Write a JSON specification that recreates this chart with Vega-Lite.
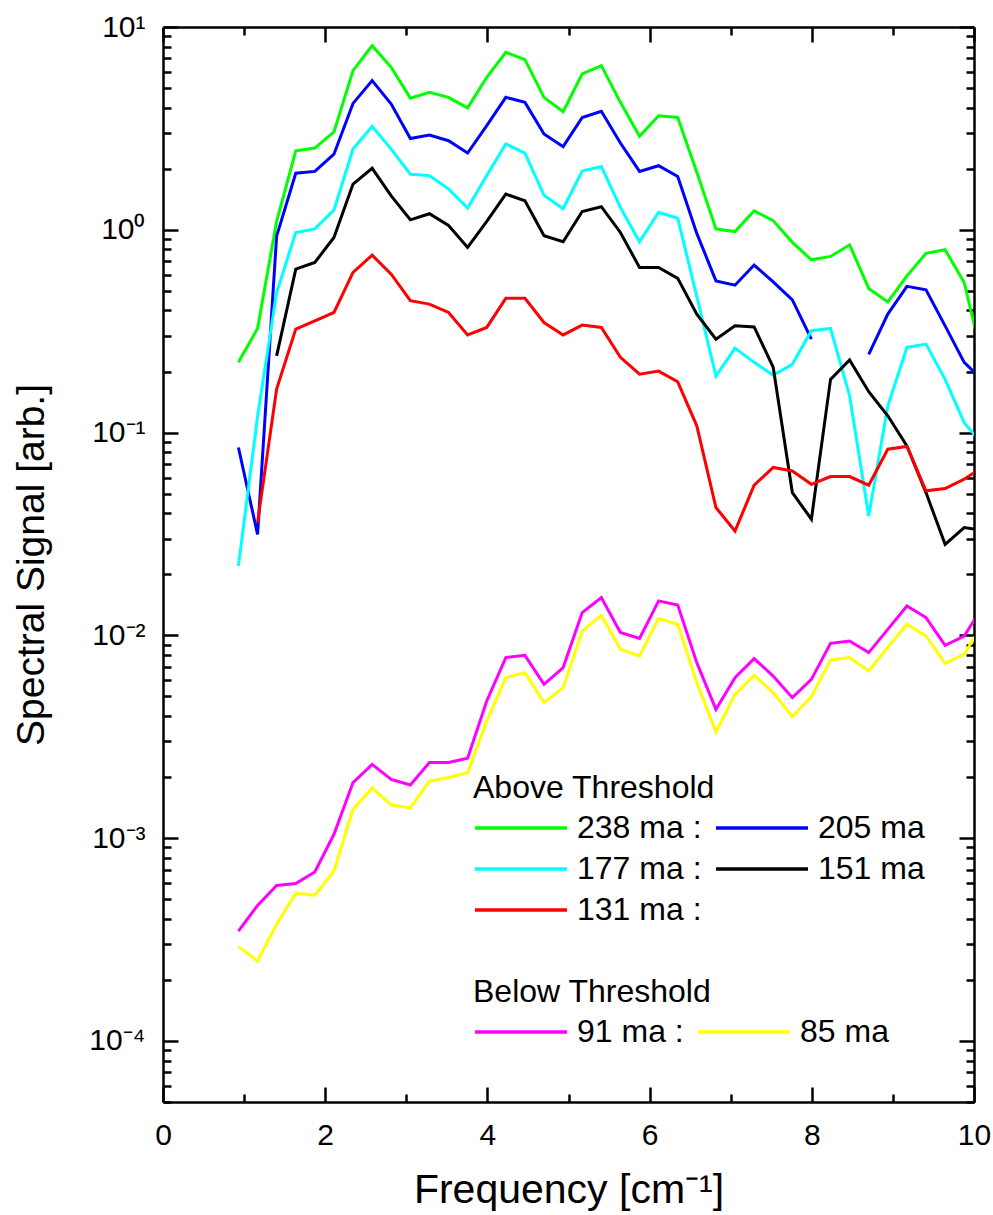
{
  "$schema": "https://vega.github.io/schema/vega-lite/v6.json",
  "width": 811,
  "height": 1075,
  "autosize": {"type": "none"},
  "padding": {"left": 163, "top": 27, "right": 19, "bottom": 113},
  "background": "white",
  "config": {
    "view": {"stroke": null},
    "font": "Liberation Sans",
    "axis": {
      "grid": false,
      "tickColor": "black",
      "tickWidth": 2.5,
      "domainColor": "black",
      "domainWidth": 2.5,
      "labelColor": "black",
      "titleColor": "black",
      "labelFont": "Liberation Sans",
      "titleFont": "Liberation Sans"
    },
    "legend": {"labelFont": "Liberation Sans", "titleFont": "Liberation Sans"}
  },
  "data": {
    "values": [
      {"c":"238 ma","x":0.93,"y":0.222},{"c":"238 ma","x":1.166,"y":0.326},{"c":"238 ma","x":1.401,"y":1.1},{"c":"238 ma","x":1.637,"y":2.45},{"c":"238 ma","x":1.872,"y":2.53},{"c":"238 ma","x":2.108,"y":3.04},{"c":"238 ma","x":2.343,"y":6.09},{"c":"238 ma","x":2.579,"y":8.09},{"c":"238 ma","x":2.814,"y":6.33},{"c":"238 ma","x":3.05,"y":4.46},{"c":"238 ma","x":3.285,"y":4.76},{"c":"238 ma","x":3.521,"y":4.5},{"c":"238 ma","x":3.756,"y":3.99},{"c":"238 ma","x":3.992,"y":5.65},{"c":"238 ma","x":4.227,"y":7.5},{"c":"238 ma","x":4.463,"y":6.9},{"c":"238 ma","x":4.698,"y":4.5},{"c":"238 ma","x":4.934,"y":3.82},{"c":"238 ma","x":5.169,"y":5.87},{"c":"238 ma","x":5.405,"y":6.45},{"c":"238 ma","x":5.64,"y":4.25},{"c":"238 ma","x":5.876,"y":2.89},{"c":"238 ma","x":6.111,"y":3.65},{"c":"238 ma","x":6.347,"y":3.58},{"c":"238 ma","x":6.582,"y":1.92},{"c":"238 ma","x":6.818,"y":1.01},{"c":"238 ma","x":7.053,"y":0.98},{"c":"238 ma","x":7.289,"y":1.24},{"c":"238 ma","x":7.524,"y":1.11},{"c":"238 ma","x":7.76,"y":0.867},{"c":"238 ma","x":7.995,"y":0.711},{"c":"238 ma","x":8.231,"y":0.739},{"c":"238 ma","x":8.466,"y":0.843},{"c":"238 ma","x":8.702,"y":0.514},{"c":"238 ma","x":8.937,"y":0.441},{"c":"238 ma","x":9.173,"y":0.593},{"c":"238 ma","x":9.408,"y":0.765},{"c":"238 ma","x":9.644,"y":0.797},{"c":"238 ma","x":9.879,"y":0.55},{"c":"238 ma","x":10.115,"y":0.22},

      {"c":"205 ma","s":1,"x":0.93,"y":0.0844},{"c":"205 ma","s":1,"x":1.166,"y":0.0315},{"c":"205 ma","s":1,"x":1.401,"y":0.93},{"c":"205 ma","s":1,"x":1.637,"y":1.9},{"c":"205 ma","s":1,"x":1.872,"y":1.94},{"c":"205 ma","s":1,"x":2.108,"y":2.36},{"c":"205 ma","s":1,"x":2.343,"y":4.2},{"c":"205 ma","s":1,"x":2.579,"y":5.44},{"c":"205 ma","s":1,"x":2.814,"y":4.17},{"c":"205 ma","s":1,"x":3.05,"y":2.82},{"c":"205 ma","s":1,"x":3.285,"y":2.93},{"c":"205 ma","s":1,"x":3.521,"y":2.75},{"c":"205 ma","s":1,"x":3.756,"y":2.39},{"c":"205 ma","s":1,"x":3.992,"y":3.26},{"c":"205 ma","s":1,"x":4.227,"y":4.5},{"c":"205 ma","s":1,"x":4.463,"y":4.25},{"c":"205 ma","s":1,"x":4.698,"y":2.97},{"c":"205 ma","s":1,"x":4.934,"y":2.57},{"c":"205 ma","s":1,"x":5.169,"y":3.58},{"c":"205 ma","s":1,"x":5.405,"y":3.84},{"c":"205 ma","s":1,"x":5.64,"y":2.68},{"c":"205 ma","s":1,"x":5.876,"y":1.94},{"c":"205 ma","s":1,"x":6.111,"y":2.07},{"c":"205 ma","s":1,"x":6.347,"y":1.83},{"c":"205 ma","s":1,"x":6.582,"y":0.96},{"c":"205 ma","s":1,"x":6.818,"y":0.56},{"c":"205 ma","s":1,"x":7.053,"y":0.533},{"c":"205 ma","s":1,"x":7.289,"y":0.67},{"c":"205 ma","s":1,"x":7.524,"y":0.554},{"c":"205 ma","s":1,"x":7.76,"y":0.451},{"c":"205 ma","s":1,"x":7.995,"y":0.289},
      {"c":"205 ma","s":2,"x":8.702,"y":0.243},{"c":"205 ma","s":2,"x":8.937,"y":0.384},{"c":"205 ma","s":2,"x":9.173,"y":0.526},{"c":"205 ma","s":2,"x":9.408,"y":0.506},{"c":"205 ma","s":2,"x":9.644,"y":0.336},{"c":"205 ma","s":2,"x":9.879,"y":0.222},{"c":"205 ma","s":2,"x":10.115,"y":0.18},

      {"c":"177 ma","x":0.93,"y":0.022},{"c":"177 ma","x":1.166,"y":0.12},{"c":"177 ma","x":1.401,"y":0.49},{"c":"177 ma","x":1.637,"y":0.97},{"c":"177 ma","x":1.872,"y":1.01},{"c":"177 ma","x":2.108,"y":1.25},{"c":"177 ma","x":2.343,"y":2.5},{"c":"177 ma","x":2.579,"y":3.24},{"c":"177 ma","x":2.814,"y":2.5},{"c":"177 ma","x":3.05,"y":1.88},{"c":"177 ma","x":3.285,"y":1.85},{"c":"177 ma","x":3.521,"y":1.59},{"c":"177 ma","x":3.756,"y":1.28},{"c":"177 ma","x":3.992,"y":1.85},{"c":"177 ma","x":4.227,"y":2.65},{"c":"177 ma","x":4.463,"y":2.39},{"c":"177 ma","x":4.698,"y":1.48},{"c":"177 ma","x":4.934,"y":1.27},{"c":"177 ma","x":5.169,"y":1.95},{"c":"177 ma","x":5.405,"y":2.05},{"c":"177 ma","x":5.64,"y":1.29},{"c":"177 ma","x":5.876,"y":0.873},{"c":"177 ma","x":6.111,"y":1.22},{"c":"177 ma","x":6.347,"y":1.14},{"c":"177 ma","x":6.582,"y":0.47},{"c":"177 ma","x":6.818,"y":0.19},{"c":"177 ma","x":7.053,"y":0.261},{"c":"177 ma","x":7.289,"y":0.222},{"c":"177 ma","x":7.524,"y":0.192},{"c":"177 ma","x":7.76,"y":0.217},{"c":"177 ma","x":7.995,"y":0.318},{"c":"177 ma","x":8.231,"y":0.326},{"c":"177 ma","x":8.466,"y":0.152},{"c":"177 ma","x":8.702,"y":0.0388},{"c":"177 ma","x":8.937,"y":0.135},{"c":"177 ma","x":9.173,"y":0.263},{"c":"177 ma","x":9.408,"y":0.273},{"c":"177 ma","x":9.644,"y":0.183},{"c":"177 ma","x":9.879,"y":0.112},{"c":"177 ma","x":10.115,"y":0.0865},

      {"c":"151 ma","x":1.401,"y":0.239},{"c":"151 ma","x":1.637,"y":0.64},{"c":"151 ma","x":1.872,"y":0.69},{"c":"151 ma","x":2.108,"y":0.917},{"c":"151 ma","x":2.343,"y":1.68},{"c":"151 ma","x":2.579,"y":2.01},{"c":"151 ma","x":2.814,"y":1.47},{"c":"151 ma","x":3.05,"y":1.12},{"c":"151 ma","x":3.285,"y":1.2},{"c":"151 ma","x":3.521,"y":1.05},{"c":"151 ma","x":3.756,"y":0.819},{"c":"151 ma","x":3.992,"y":1.1},{"c":"151 ma","x":4.227,"y":1.5},{"c":"151 ma","x":4.463,"y":1.39},{"c":"151 ma","x":4.698,"y":0.934},{"c":"151 ma","x":4.934,"y":0.873},{"c":"151 ma","x":5.169,"y":1.23},{"c":"151 ma","x":5.405,"y":1.3},{"c":"151 ma","x":5.64,"y":0.97},{"c":"151 ma","x":5.876,"y":0.652},{"c":"151 ma","x":6.111,"y":0.652},{"c":"151 ma","x":6.347,"y":0.576},{"c":"151 ma","x":6.582,"y":0.384},{"c":"151 ma","x":6.818,"y":0.289},{"c":"151 ma","x":7.053,"y":0.336},{"c":"151 ma","x":7.289,"y":0.332},{"c":"151 ma","x":7.524,"y":0.21},{"c":"151 ma","x":7.76,"y":0.0506},{"c":"151 ma","x":7.995,"y":0.0374},{"c":"151 ma","x":8.231,"y":0.183},{"c":"151 ma","x":8.466,"y":0.228},{"c":"151 ma","x":8.702,"y":0.159},{"c":"151 ma","x":8.937,"y":0.121},{"c":"151 ma","x":9.173,"y":0.0859},{"c":"151 ma","x":9.408,"y":0.0506},{"c":"151 ma","x":9.644,"y":0.0281},{"c":"151 ma","x":9.879,"y":0.034},{"c":"151 ma","x":10.115,"y":0.033},

      {"c":"131 ma","x":1.166,"y":0.036},{"c":"131 ma","x":1.401,"y":0.164},{"c":"131 ma","x":1.637,"y":0.324},{"c":"131 ma","x":1.872,"y":0.356},{"c":"131 ma","x":2.108,"y":0.391},{"c":"131 ma","x":2.343,"y":0.616},{"c":"131 ma","x":2.579,"y":0.75},{"c":"131 ma","x":2.814,"y":0.604},{"c":"131 ma","x":3.05,"y":0.447},{"c":"131 ma","x":3.285,"y":0.43},{"c":"131 ma","x":3.521,"y":0.391},{"c":"131 ma","x":3.756,"y":0.303},{"c":"131 ma","x":3.992,"y":0.33},{"c":"131 ma","x":4.227,"y":0.459},{"c":"131 ma","x":4.463,"y":0.459},{"c":"131 ma","x":4.698,"y":0.349},{"c":"131 ma","x":4.934,"y":0.303},{"c":"131 ma","x":5.169,"y":0.339},{"c":"131 ma","x":5.405,"y":0.33},{"c":"131 ma","x":5.64,"y":0.235},{"c":"131 ma","x":5.876,"y":0.194},{"c":"131 ma","x":6.111,"y":0.201},{"c":"131 ma","x":6.347,"y":0.178},{"c":"131 ma","x":6.582,"y":0.108},{"c":"131 ma","x":6.818,"y":0.0427},{"c":"131 ma","x":7.053,"y":0.0327},{"c":"131 ma","x":7.289,"y":0.055},{"c":"131 ma","x":7.524,"y":0.0673},{"c":"131 ma","x":7.76,"y":0.0647},{"c":"131 ma","x":7.995,"y":0.0556},{"c":"131 ma","x":8.231,"y":0.0607},{"c":"131 ma","x":8.466,"y":0.0607},{"c":"131 ma","x":8.702,"y":0.055},{"c":"131 ma","x":8.937,"y":0.0828},{"c":"131 ma","x":9.173,"y":0.0854},{"c":"131 ma","x":9.408,"y":0.0516},{"c":"131 ma","x":9.644,"y":0.053},{"c":"131 ma","x":9.879,"y":0.0589},{"c":"131 ma","x":10.115,"y":0.068},

      {"c":"91 ma","x":0.93,"y":0.000348},{"c":"91 ma","x":1.166,"y":0.000466},{"c":"91 ma","x":1.401,"y":0.000585},{"c":"91 ma","x":1.637,"y":0.000597},{"c":"91 ma","x":1.872,"y":0.000681},{"c":"91 ma","x":2.108,"y":0.001045},{"c":"91 ma","x":2.343,"y":0.00188},{"c":"91 ma","x":2.579,"y":0.00231},{"c":"91 ma","x":2.814,"y":0.00195},{"c":"91 ma","x":3.05,"y":0.00183},{"c":"91 ma","x":3.285,"y":0.00236},{"c":"91 ma","x":3.521,"y":0.00236},{"c":"91 ma","x":3.756,"y":0.00248},{"c":"91 ma","x":3.992,"y":0.00475},{"c":"91 ma","x":4.227,"y":0.00777},{"c":"91 ma","x":4.463,"y":0.00797},{"c":"91 ma","x":4.698,"y":0.00574},{"c":"91 ma","x":4.934,"y":0.00694},{"c":"91 ma","x":5.169,"y":0.01295},{"c":"91 ma","x":5.405,"y":0.01537},{"c":"91 ma","x":5.64,"y":0.01033},{"c":"91 ma","x":5.876,"y":0.00965},{"c":"91 ma","x":6.111,"y":0.0148},{"c":"91 ma","x":6.347,"y":0.0141},{"c":"91 ma","x":6.582,"y":0.00734},{"c":"91 ma","x":6.818,"y":0.00432},{"c":"91 ma","x":7.053,"y":0.00619},{"c":"91 ma","x":7.289,"y":0.00768},{"c":"91 ma","x":7.524,"y":0.0063},{"c":"91 ma","x":7.76,"y":0.00493},{"c":"91 ma","x":7.995,"y":0.00607},{"c":"91 ma","x":8.231,"y":0.00914},{"c":"91 ma","x":8.466,"y":0.00938},{"c":"91 ma","x":8.702,"y":0.00822},{"c":"91 ma","x":8.937,"y":0.0107},{"c":"91 ma","x":9.173,"y":0.01396},{"c":"91 ma","x":9.408,"y":0.01224},{"c":"91 ma","x":9.644,"y":0.00893},{"c":"91 ma","x":9.879,"y":0.00993},{"c":"91 ma","x":10.115,"y":0.014},

      {"c":"85 ma","x":0.93,"y":0.000292},{"c":"85 ma","x":1.166,"y":0.000248},{"c":"85 ma","x":1.401,"y":0.000376},{"c":"85 ma","x":1.637,"y":0.000535},{"c":"85 ma","x":1.872,"y":0.000524},{"c":"85 ma","x":2.108,"y":0.000689},{"c":"85 ma","x":2.343,"y":0.00139},{"c":"85 ma","x":2.579,"y":0.00177},{"c":"85 ma","x":2.814,"y":0.00146},{"c":"85 ma","x":3.05,"y":0.00141},{"c":"85 ma","x":3.285,"y":0.00191},{"c":"85 ma","x":3.521,"y":0.00199},{"c":"85 ma","x":3.756,"y":0.0021},{"c":"85 ma","x":3.992,"y":0.00378},{"c":"85 ma","x":4.227,"y":0.00619},{"c":"85 ma","x":4.463,"y":0.00655},{"c":"85 ma","x":4.698,"y":0.00466},{"c":"85 ma","x":4.934,"y":0.00552},{"c":"85 ma","x":5.169,"y":0.0105},{"c":"85 ma","x":5.405,"y":0.01256},{"c":"85 ma","x":5.64,"y":0.00854},{"c":"85 ma","x":5.876,"y":0.00791},{"c":"85 ma","x":6.111,"y":0.0121},{"c":"85 ma","x":6.347,"y":0.01134},{"c":"85 ma","x":6.582,"y":0.00585},{"c":"85 ma","x":6.818,"y":0.00334},{"c":"85 ma","x":7.053,"y":0.00512},{"c":"85 ma","x":7.289,"y":0.00635},{"c":"85 ma","x":7.524,"y":0.00522},{"c":"85 ma","x":7.76,"y":0.00397},{"c":"85 ma","x":7.995,"y":0.00499},{"c":"85 ma","x":8.231,"y":0.00756},{"c":"85 ma","x":8.466,"y":0.00777},{"c":"85 ma","x":8.702,"y":0.00667},{"c":"85 ma","x":8.937,"y":0.00871},{"c":"85 ma","x":9.173,"y":0.01134},{"c":"85 ma","x":9.408,"y":0.00993},{"c":"85 ma","x":9.644,"y":0.00728},{"c":"85 ma","x":9.879,"y":0.00807},{"c":"85 ma","x":10.115,"y":0.0115}
    ]
  },
  "layer": [
    {
      "transform": [{"filter": {"field": "c", "oneOf": ["238 ma", "205 ma", "177 ma", "151 ma", "131 ma"]}}],
      "mark": {"type": "line", "strokeWidth": 3, "clip": true},
      "encoding": {
        "x": {
          "field": "x", "type": "quantitative",
          "scale": {"domain": [0, 10], "nice": false, "zero": false},
          "axis": {
            "orient": "bottom", "values": [0, 2, 4, 6, 8, 10], "tickSize": -15,
            "labelFontSize": 30, "labelPadding": 33, "labelFlush": false, "labelOverlap": false,
            "title": "Frequency [cm⁻¹]", "titleFontSize": 41, "titleFontWeight": "normal", "titlePadding": 20
          }
        },
        "y": {
          "field": "y", "type": "quantitative",
          "scale": {"type": "log", "domain": [0.00005, 10], "nice": false},
          "axis": {
            "orient": "left", "values": [0.0001, 0.001, 0.01, 0.1, 1, 10], "tickSize": -15,
            "labelFontSize": 30, "labelPadding": 33, "labelFlush": false, "labelOverlap": false,
            "labelExpr": "['10⁻⁴','10⁻³','10⁻²','10⁻¹','10⁰','10¹'][round(log(datum.value)/LN10)+4]",
            "title": "Spectral Signal [arb.]", "titleFontSize": 39, "titleFontWeight": "normal", "titlePadding": 37
          }
        },
        "color": {
          "field": "c", "type": "nominal",
          "scale": {"domain": ["238 ma", "205 ma", "177 ma", "151 ma", "131 ma"], "range": ["#00ff00", "#0000ff", "#00ffff", "#000000", "#ff0000"]},
          "legend": {
            "orient": "none", "legendX": 310, "legendY": 746, "title": "Above Threshold", "columns": 2, "direction": "horizontal",
            "symbolType": "stroke", "symbolSize": 8464, "symbolStrokeWidth": 3.5, "clipHeight": 32,
            "rowPadding": 9, "columnPadding": 12, "labelOffset": 8, "labelFontSize": 32, "labelColor": "black", "labelLimit": 300,
            "titleFontSize": 32, "titleFontWeight": "normal", "titleColor": "black", "titlePadding": 7, "titleLimit": 500, "padding": 0, "symbolOffset": 0,
            "labelExpr": "indexof(['238 ma','177 ma','131 ma'], datum.label) >= 0 ? datum.label + ' :' : datum.label"
          }
        },
        "detail": {"field": "s", "type": "nominal"}
      }
    },
    {
      "transform": [{"filter": {"field": "c", "oneOf": ["91 ma", "85 ma"]}}],
      "mark": {"type": "line", "strokeWidth": 3, "clip": true},
      "encoding": {
        "x": {
          "field": "x", "type": "quantitative",
          "scale": {"domain": [0, 10], "nice": false, "zero": false},
          "axis": {"orient": "bottom", "values": [1, 3, 5, 7, 9], "tickSize": -8, "labels": false, "domain": false, "title": null}
        },
        "y": {
          "field": "y", "type": "quantitative",
          "scale": {"type": "log", "domain": [0.00005, 10], "nice": false},
          "axis": {"orient": "left", "values": [0.00005,0.00006,0.00007,0.00008,0.00009,0.0002,0.0003,0.0004,0.0005,0.0006,0.0007,0.0008,0.0009,0.002,0.003,0.004,0.005,0.006,0.007,0.008,0.009,0.02,0.03,0.04,0.05,0.06,0.07,0.08,0.09,0.2,0.3,0.4,0.5,0.6,0.7,0.8,0.9,2,3,4,5,6,7,8,9], "tickSize": -8, "labels": false, "domain": false, "title": null}
        },
        "color": {
          "field": "c", "type": "nominal",
          "scale": {"domain": ["91 ma", "85 ma"], "range": ["#ff00ff", "#ffff00"]},
          "legend": {
            "orient": "none", "legendX": 310, "legendY": 950, "title": "Below Threshold", "columns": 2, "direction": "horizontal",
            "symbolType": "stroke", "symbolSize": 8464, "symbolStrokeWidth": 3.5, "clipHeight": 32,
            "rowPadding": 9, "columnPadding": 12, "labelOffset": 8, "labelFontSize": 32, "labelColor": "black", "labelLimit": 300,
            "titleFontSize": 32, "titleFontWeight": "normal", "titleColor": "black", "titlePadding": 7, "titleLimit": 500, "padding": 0, "symbolOffset": 0,
            "labelExpr": "datum.label == '91 ma' ? '\u00a091 ma :' : datum.label"
          }
        }
      }
    },
    {
      "mark": {"type": "point", "opacity": 0},
      "encoding": {
        "x": {
          "field": "x", "type": "quantitative",
          "scale": {"domain": [0, 10], "nice": false, "zero": false},
          "axis": {"orient": "top", "values": [0, 2, 4, 6, 8, 10], "tickSize": -15, "labels": false, "title": null}
        },
        "y": {
          "field": "y", "type": "quantitative",
          "scale": {"type": "log", "domain": [0.00005, 10], "nice": false},
          "axis": {"orient": "right", "values": [0.0001, 0.001, 0.01, 0.1, 1, 10], "tickSize": -15, "labels": false, "title": null}
        }
      }
    },
    {
      "mark": {"type": "point", "opacity": 0},
      "encoding": {
        "x": {
          "field": "x", "type": "quantitative",
          "scale": {"domain": [0, 10], "nice": false, "zero": false},
          "axis": {"orient": "top", "values": [1, 3, 5, 7, 9], "tickSize": -8, "labels": false, "domain": false, "title": null}
        },
        "y": {
          "field": "y", "type": "quantitative",
          "scale": {"type": "log", "domain": [0.00005, 10], "nice": false},
          "axis": {"orient": "right", "values": [0.00005,0.00006,0.00007,0.00008,0.00009,0.0002,0.0003,0.0004,0.0005,0.0006,0.0007,0.0008,0.0009,0.002,0.003,0.004,0.005,0.006,0.007,0.008,0.009,0.02,0.03,0.04,0.05,0.06,0.07,0.08,0.09,0.2,0.3,0.4,0.5,0.6,0.7,0.8,0.9,2,3,4,5,6,7,8,9], "tickSize": -8, "labels": false, "domain": false, "title": null}
        }
      }
    }
  ],
  "resolve": {
    "scale": {"color": "independent"},
    "axis": {"x": "independent", "y": "independent"}
  }
}
